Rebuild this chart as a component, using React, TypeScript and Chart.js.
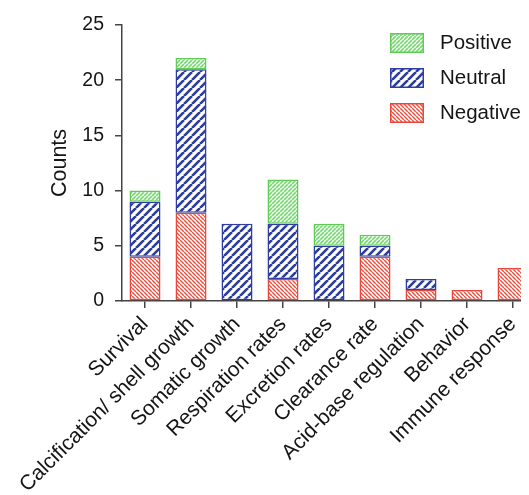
import React, { useEffect, useRef } from "react";
import { Chart, registerables } from "chart.js";

Chart.register(...registerables);

const categories = [
  "Survival",
  "Calcification/ shell growth",
  "Somatic growth",
  "Respiration rates",
  "Excretion rates",
  "Clearance rate",
  "Acid-base regulation",
  "Behavior",
  "Immune response",
];
const negative = [4, 8, 0, 2, 0, 4, 1, 1, 3];
const neutral = [5, 13, 7, 5, 5, 1, 1, 0, 0];
const positive = [1, 1, 0, 4, 2, 1, 0, 0, 0];
const yTicks = [0, 5, 10, 15, 20, 25];

const FONT = "'Liberation Sans', Arial, Helvetica, sans-serif";
const TEXT = "#151515";

function makePattern(color: string, size: number, lw: number, dir: "/" | "\\") {
  const c = document.createElement("canvas");
  c.width = size;
  c.height = size;
  const ctx = c.getContext("2d")!;
  ctx.fillStyle = "#ffffff";
  ctx.fillRect(0, 0, size, size);
  ctx.strokeStyle = color;
  ctx.lineWidth = lw;
  ctx.beginPath();
  for (let k = -1; k <= 1; k++) {
    if (dir === "/") {
      ctx.moveTo(k * size, size);
      ctx.lineTo(k * size + size, 0);
    } else {
      ctx.moveTo(k * size, 0);
      ctx.lineTo(k * size + size, size);
    }
  }
  ctx.stroke();
  return ctx.createPattern(c, "repeat")!;
}

const legendPlugin = {
  id: "insideLegend",
  afterDraw(chart: any) {
    const ctx = chart.ctx;
    const order = [2, 1, 0];
    ctx.save();
    order.forEach((di, k) => {
      const ds = chart.data.datasets[di];
      const y = 33 + k * 35;
      ctx.fillStyle = ds.backgroundColor;
      ctx.fillRect(390, y, 34, 20);
      ctx.strokeStyle = ds.borderColor;
      ctx.lineWidth = 1.5;
      ctx.strokeRect(390.75, y + 0.75, 32.5, 18.5);
      ctx.fillStyle = TEXT;
      ctx.font = `20.5px ${FONT}`;
      ctx.textBaseline = "middle";
      ctx.textAlign = "left";
      ctx.fillText(ds.label, 440, y + 10);
    });
    ctx.restore();
  },
};

export default function App() {
  const ref = useRef<HTMLCanvasElement>(null);
  useEffect(() => {
    const greenPat = makePattern("#7fd87a", 4, 1.7, "/");
    const bluePat = makePattern("#2c3c9c", 8, 2.6, "/");
    const redPat = makePattern("#ec5446", 4, 1.5, "\\");
    const axisColor = "#444";
    const chart = new Chart(ref.current!, {
      type: "bar",
      data: {
        labels: categories,
        datasets: [
          {
            label: "Negative",
            data: negative,
            backgroundColor: redPat as any,
            borderColor: "#e8483c",
            borderWidth: 1.5,
            borderSkipped: false,
          },
          {
            label: "Neutral",
            data: neutral,
            backgroundColor: bluePat as any,
            borderColor: "#2e3da0",
            borderWidth: 1.5,
            borderSkipped: false,
          },
          {
            label: "Positive",
            data: positive,
            backgroundColor: greenPat as any,
            borderColor: "#5fcc55",
            borderWidth: 1.5,
            borderSkipped: false,
          },
        ],
      },
      options: {
        responsive: false,
        animation: false,
        devicePixelRatio: 1,
        layout: { padding: { top: 25, left: 0, right: 0, bottom: 0 } },
        datasets: { bar: { barPercentage: 0.674, categoryPercentage: 1 } },
        plugins: { legend: { display: false }, tooltip: { enabled: false } },
        scales: {
          x: {
            stacked: true,
            afterFit: (s: any) => {
              s.height = 194;
            },
            border: { display: true, color: axisColor, width: 1.5 },
            grid: {
              offset: false,
              drawOnChartArea: false,
              drawTicks: true,
              tickLength: 7,
              color: axisColor,
              lineWidth: 1.5,
            },
            ticks: {
              minRotation: 45,
              maxRotation: 45,
              autoSkip: false,
              padding: 4,
              color: TEXT,
              font: { family: FONT, size: 21 },
            },
          },
          y: {
            stacked: true,
            min: 0,
            max: 25,
            afterFit: (s: any) => {
              s.width = 122;
            },
            afterBuildTicks: (s: any) => {
              s.ticks = yTicks.map((v) => ({ value: v }));
            },
            border: { display: true, color: axisColor, width: 1.5 },
            grid: {
              drawOnChartArea: false,
              drawTicks: true,
              tickLength: 7,
              color: axisColor,
              lineWidth: 1.5,
            },
            ticks: {
              padding: 11,
              color: TEXT,
              font: { family: FONT, size: 19.5 },
            },
            title: {
              display: true,
              text: "Counts",
              color: TEXT,
              font: { family: FONT, size: 21.5 },
              padding: { top: 47, bottom: 0 },
            },
          },
        },
      },
      plugins: [legendPlugin],
    });
    return () => chart.destroy();
  }, []);
  return (
    <div
      style={{
        position: "relative",
        marginLeft: -8,
        marginTop: -8,
        width: 529,
        height: 495,
        overflow: "hidden",
      }}
    >
      <canvas ref={ref} width={536} height={495} style={{ display: "block" }} />
    </div>
  );
}
